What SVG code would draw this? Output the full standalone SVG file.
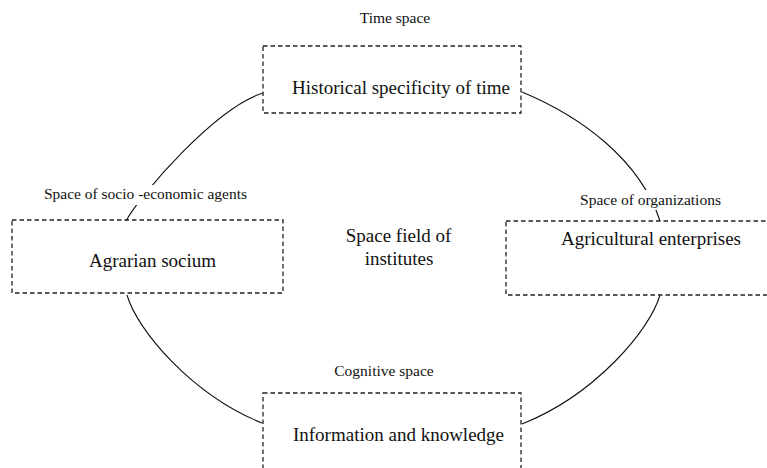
<svg xmlns="http://www.w3.org/2000/svg" width="767" height="468" viewBox="0 0 767 468">
<style>
.box{fill:none;stroke:#222;stroke-width:1.3;stroke-dasharray:4.5,3}
.arc{fill:none;stroke:#111;stroke-width:1.1}
.big{font-family:"Liberation Serif","Times New Roman",serif;font-size:19px;fill:#111;text-anchor:middle}
.small{font-family:"Liberation Serif","Times New Roman",serif;font-size:15.5px;fill:#111;text-anchor:middle}
.bg{fill:#fff}
</style>
<rect width="767" height="468" fill="#fff"/>
<g id="connectors">
<path class="arc" d="M126,221 C140,195 215,108 263,93"/>
<path class="arc" d="M522,92 C582,117 640,160 660,221"/>
<path class="arc" d="M127,295 C137,330 192,395 262,423"/>
<path class="arc" d="M660,295 C650,330 595,395 522,424"/>
</g>
<g id="time">
<text class="small" x="395" y="23">Time space</text>
<rect class="box" x="263" y="46" width="258" height="67"/>
<text class="big" x="401" y="94">Historical specificity of time</text>
</g>
<g id="agrarian">
<rect class="bg" x="40" y="185" width="212" height="20"/>
<text class="small" x="145.5" y="199">Space of socio -economic agents</text>
<rect class="box" x="12" y="220" width="271" height="73"/>
<text class="big" x="152.5" y="267">Agrarian socium</text>
</g>
<g id="enterprises">
<rect class="bg" x="576" y="190" width="150" height="20"/>
<text class="small" x="650.5" y="205">Space of organizations</text>
<rect class="box" x="506" y="221" width="270" height="74"/>
<text class="big" x="651" y="245">Agricultural enterprises</text>
</g>
<g id="institutes">
<text class="big" x="398.5" y="242">Space field of</text>
<text class="big" x="399" y="265">institutes</text>
</g>
<g id="knowledge">
<text class="small" x="384" y="376">Cognitive space</text>
<rect class="box" x="263" y="393" width="258" height="80"/>
<text class="big" x="398.5" y="441">Information and knowledge</text>
</g>
</svg>
